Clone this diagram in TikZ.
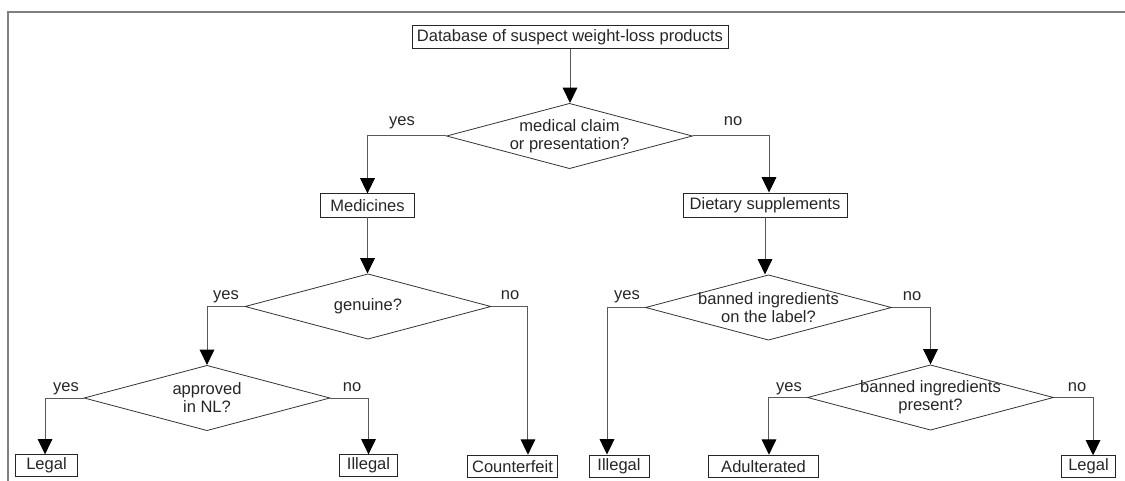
\documentclass[tikz,border=0pt]{standalone}
\usepackage{fontspec}
\setmainfont{Liberation Sans}
\usetikzlibrary{shapes.geometric,arrows.meta}
\begin{document}
\begin{tikzpicture}[x=0.75pt,y=-0.75pt,
  every node/.style={font=\fontsize{12.4}{13.5}\selectfont, text=black!85},
  box/.style={draw=black!85, line width=0.7pt, rectangle, inner sep=0pt, minimum height=17pt},
  dia/.style={draw=black!80, line width=0.6pt, diamond, inner sep=0pt, minimum width=184.5pt, minimum height=49pt},
  dtext/.style={align=center, inner sep=0pt},
  conn/.style={draw=black!65, line width=0.75pt, -{Triangle[length=11.5pt,width=11pt,color=black]}},
  lbl/.style={anchor=base, inner sep=0pt}]
\useasboundingbox (0,0) rectangle (1125,481);
% frame
\draw[draw=black!50, line width=1.4pt] (1125,12) -- (8,12) -- (8,481);
% boxes
\node[box, minimum width=237pt] (db) at (570,37) {Database of suspect weight-loss products};
\node[box, minimum width=71pt, minimum height=17.3pt] (med) at (367.5,205.5) {Medicines};
\node[box, minimum width=123pt, minimum height=18pt] (diet) at (765,205) {Dietary supplements};
\node[box, minimum width=47pt, minimum height=16pt] (legalA) at (46.5,465.5) {Legal};
\node[box, minimum width=44pt, minimum height=16pt] (illegalA) at (368.5,465.5) {Illegal};
\node[box, minimum width=68pt, minimum height=17pt] (cf) at (512.5,466.5) {Counterfeit};
\node[box, minimum width=45pt, minimum height=16.5pt] (illegalB) at (619,466) {Illegal};
\node[box, minimum width=83pt, minimum height=17pt] (adult) at (763.5,466.5) {Adulterated};
\node[box, minimum width=40pt, minimum height=16pt] (legalB) at (1088.5,466.5) {Legal};
% diamonds
\node[dia] (d1) at (569.5,136) {};
\node[dtext] (t1) at (569.5,136) {medical claim\\or presentation?};
\node[dia] (d2) at (368,306.5) {};
\node[dtext] (t2) at (368,306.5) {genuine?};
\node[dia] (d3) at (207,398) {};
\node[dtext] (t3) at (207,398) {approved\\in NL?};
\node[dia] (d4) at (768.5,307.5) {};
\node[dtext] (t4) at (768.5,307.5) {banned ingredients\\on the label?};
\node[dia] (d5) at (930.5,397.5) {};
\node[dtext] (t5) at (930.5,397.5) {banned ingredients\\present?};
% connectors
\draw[conn] (db.south) -- (db.south |- d1.north);
\draw[conn] (d1.west) -| (med.north);
\draw[conn] (d1.east) -| ([xshift=3pt]diet.north);
\draw[conn] (med.south) -- (med.south |- d2.north);
\draw[conn] (diet.south) -- (diet.south |- d4.north);
\draw[conn] (d2.west) -| (d3.north);
\draw[conn] (d2.east) -| ([xshift=11.6pt]cf.north);
\draw[conn] (d3.west) -| ([xshift=-1.1pt]legalA.north);
\draw[conn] (d3.east) -| (illegalA.north);
\draw[conn] (d4.west) -| ([xshift=-9pt]illegalB.north);
\draw[conn] (d4.east) -| (d5.north);
\draw[conn] (d5.west) -| ([xshift=4.1pt]adult.north);
\draw[conn] (d5.east) -| ([xshift=3.4pt]legalB.north);
% labels
\node[lbl] (y1) at (402,126) {yes};
\node[lbl] (n1) at (733,126) {no};
\node[lbl] (y2) at (226,299) {yes};
\node[lbl] (n2) at (510,299.5) {no};
\node[lbl] (y3) at (66,391) {yes};
\node[lbl] (n3) at (352,391) {no};
\node[lbl] (y4) at (627,299.5) {yes};
\node[lbl] (n4) at (912,300.5) {no};
\node[lbl] (y5) at (789,391) {yes};
\node[lbl] (n5) at (1077,391) {no};
\end{tikzpicture}
\end{document}
